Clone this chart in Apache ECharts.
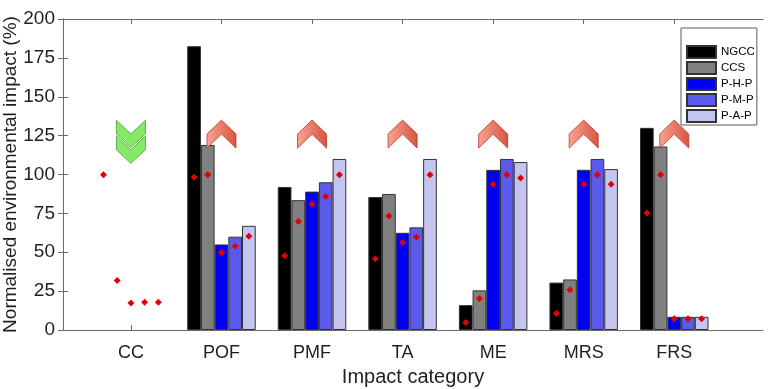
<!DOCTYPE html>
<html><head><meta charset="utf-8">
<script src="https://cdn.jsdelivr.net/npm/echarts@6/dist/echarts.min.js"></script>
<style>html,body{margin:0;padding:0;background:#fff}#c{width:768px;height:389px}</style>
</head><body><div id="c"></div>
<script>
// ---- data ----
const categories = ['CC', 'POF', 'PMF', 'TA', 'ME', 'MRS', 'FRS'];
const seriesNames = ['NGCC', 'CCS', 'P-H-P', 'P-M-P', 'P-A-P'];
const barNGCC = [null, 182.5, 92, 85.5, 16, 30.5, 130];
const barCCS  = [null, 119, 83.5, 87.5, 25.5, 32.5, 118];
const barPHP  = [null, 55, 89, 62.5, 103, 103, 8.5];
const barPMP  = [null, 60, 95, 66, 110, 110, 8.5];
const barPAP  = [null, 67, 110, 110, 108, 103.5, 8.5];
const dotNGCC = [100, 98.5, 48, 46, 5, 11, 75.5];
const dotCCS  = [32, 100, 70, 73.5, 20.5, 26, 100];
const dotPHP  = [17.5, 50, 81, 56.5, 94, 94, 7.5];
const dotPMP  = [18, 54, 86, 60, 100, 100, 7.5];
const dotPAP  = [18, 60.5, 100, 100, 98, 94, 7.5];
const trendDir = ['down', 'up', 'up', 'up', 'up', 'up', 'up'];
const trendLevel = [121, 126, 126, 126, 126, 126, 126];

// ---- layout ----
const FONT = '"Liberation Sans", Arial, Helvetica, sans-serif';
const TXT = '#1f1f1f';
const AX = '#6a6a6a';
const W = 768;
const frameLeft = 63, frameRight = 5, gridTop = 19, gridBottom = 59;
const xMin = 0.25, xMax = 7.98;   // frame limits in category units (category i at i+1)
const unit = (W - frameLeft - frameRight) / (xMax - xMin);
const barsLeft = frameLeft + (0.5 - xMin) * unit;
const barsRight = W - (barsLeft + categories.length * unit);
const barColors = ['#000000', '#808080', '#0000f5', '#5a5aec', '#c4c4f0'];
const barSets = [barNGCC, barCCS, barPHP, barPMP, barPAP];
const dotSets = [dotNGCC, dotCCS, dotPHP, dotPMP, dotPAP];
const BW = 13.7;

const UP = 'path://M0,14L14.5,0L29,14L29,28L14.5,14L0,28Z';
const DOWN2 = 'path://M0,0L14.5,13L29,0L29,13L14.5,26L0,13ZM0,15L14.5,28L29,15L29,28L14.5,41L0,28Z';

const series = [];
barSets.forEach((arr, k) => {
  series.push({
    type: 'bar', name: seriesNames[k], barWidth: BW, barGap: '0%',
    xAxisIndex: 2, yAxisIndex: 2,
    data: arr,
    itemStyle: { color: barColors[k], borderColor: '#333333', borderWidth: 1 },
    z: 2
  });
});
dotSets.forEach((arr, k) => {
  series.push({
    type: 'pictorialBar', name: 'dot' + k, barWidth: BW, barGap: '0%',
    xAxisIndex: 2, yAxisIndex: 2,
    symbol: 'diamond', symbolSize: [7, 7], symbolPosition: 'end', symbolOffset: [0, '-50%'],
    data: arr,
    itemStyle: { color: '#e20000', borderColor: '#8a0000', borderWidth: 0.6 },
    z: 5
  });
});
series.push({
  type: 'scatter', name: 'trend', z: 4, xAxisIndex: 2, yAxisIndex: 2,
  data: categories.map((c, i) => ({
    value: [c, trendLevel[i]],
    symbol: trendDir[i] === 'up' ? UP : DOWN2,
    symbolSize: trendDir[i] === 'up' ? [29, 28] : [29, 43],
    itemStyle: trendDir[i] === 'up' ? {
      color: { type: 'linear', x: 0, y: 0, x2: 1, y2: 0, colorStops: [
        { offset: 0, color: '#f8a494' }, { offset: 1, color: '#d9543f' }] },
      borderColor: '#b23a2a', borderWidth: 0.8, opacity: 1
    } : {
      color: '#84ec64', borderColor: '#4f9a3c', borderWidth: 0.8, opacity: 1
    }
  }))
});

const chart = echarts.init(document.getElementById('c'));
chart.setOption({
  animation: false,
  textStyle: { fontFamily: FONT },
  grid: [
    { left: frameLeft, right: frameRight, top: gridTop, bottom: gridBottom, outerBoundsMode: 'none', containLabel: false },
    { left: barsLeft, right: barsRight, top: gridTop, bottom: gridBottom, outerBoundsMode: 'none', containLabel: false }
  ],
  legend: {
    data: seriesNames, orient: 'vertical', left: 681, top: 28,
    padding: [17, 2, 2, 5], itemWidth: 29, itemHeight: 12, itemGap: 2,
    borderColor: '#5a5a5a', borderWidth: 1, backgroundColor: '#fff',
    icon: 'rect', textStyle: { fontSize: 11.5, color: '#000', fontFamily: FONT }
  },
  xAxis: [{
    type: 'value', gridIndex: 0, min: 0, max: 1, position: 'bottom',
    axisLine: { show: true, onZero: false, lineStyle: { color: AX, width: 1 } },
    axisTick: { show: false }, axisLabel: { show: false }, splitLine: { show: false },
    name: 'Impact category', nameLocation: 'middle', nameGap: 37,
    nameTextStyle: { fontSize: 20, color: TXT, fontFamily: FONT }
  }, {
    type: 'value', gridIndex: 0, min: 0, max: 1, position: 'top',
    axisLine: { show: true, onZero: false, lineStyle: { color: AX, width: 1 } },
    axisTick: { show: false }, axisLabel: { show: false }, splitLine: { show: false }
  }, {
    type: 'category', gridIndex: 1, data: categories, boundaryGap: true, position: 'bottom',
    axisLine: { show: false, onZero: false },
    axisTick: { show: true, inside: true, length: 5, alignWithLabel: true, lineStyle: { color: AX } },
    axisLabel: { fontSize: 18, color: TXT, margin: 14, fontFamily: FONT },
    splitLine: { show: false }
  }, {
    type: 'category', gridIndex: 1, data: categories, boundaryGap: true, position: 'top',
    axisLine: { show: false, onZero: false },
    axisTick: { show: true, inside: true, length: 5, alignWithLabel: true, lineStyle: { color: AX } },
    axisLabel: { show: false }, splitLine: { show: false }
  }],
  yAxis: [{
    type: 'value', gridIndex: 0, min: 0, max: 200, interval: 25, position: 'left',
    axisLine: { show: true, lineStyle: { color: AX, width: 1 } },
    axisTick: { show: true, inside: true, length: 5, lineStyle: { color: AX } },
    axisLabel: { fontSize: 19, color: TXT, margin: 8, fontFamily: FONT },
    splitLine: { show: false },
    name: 'Normalised environmental impact (%)', nameLocation: 'middle', nameGap: 43,
    nameMoveOverlap: false,
    nameTextStyle: { fontSize: 19, color: TXT, fontFamily: FONT }
  }, {
    type: 'value', gridIndex: 0, min: 0, max: 200, interval: 25, position: 'right',
    axisLine: { show: true, lineStyle: { color: AX, width: 1 } },
    axisTick: { show: true, inside: true, length: 5, lineStyle: { color: AX } },
    axisLabel: { show: false }, splitLine: { show: false }
  }, {
    type: 'value', gridIndex: 1, min: 0, max: 200,
    axisLine: { show: false }, axisTick: { show: false }, axisLabel: { show: false }, splitLine: { show: false }
  }],
  series: series
});
</script></body></html>
